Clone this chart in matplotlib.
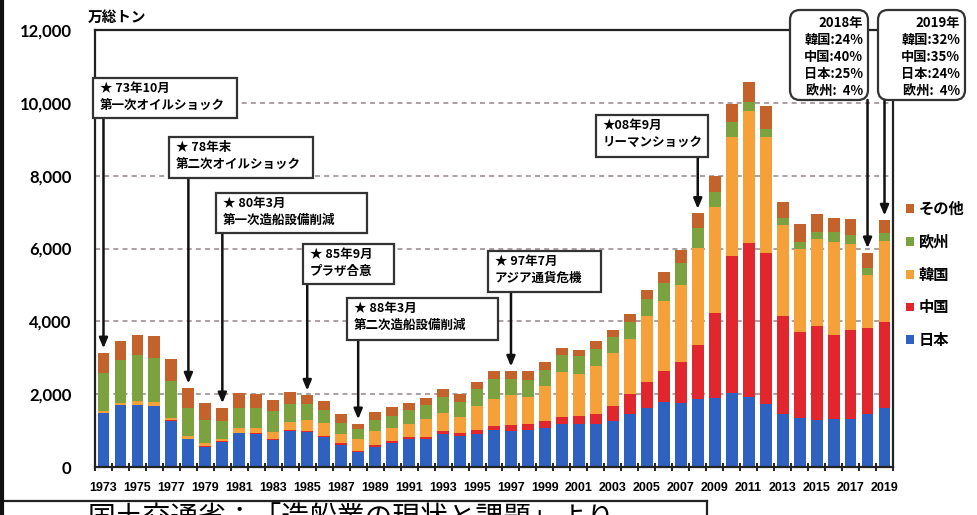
import matplotlib
matplotlib.use("Agg")
import matplotlib.pyplot as plt
from matplotlib.patches import Rectangle, FancyBboxPatch
from matplotlib.lines import Line2D
import numpy as np

plt.rcParams['font.family'] = ['Noto Sans CJK JP', 'DejaVu Sans']

years = list(range(1973, 2020))

# 万総トン
japan = [1475, 1695, 1700, 1667, 1264, 760, 560, 690, 925, 900,
         750, 1000, 950, 820, 614, 412, 550, 660, 760, 760,
         900, 850, 916, 1008, 980, 1026, 1080, 1190, 1170, 1170,
         1264, 1456, 1630, 1795, 1749, 1868, 1886, 2024, 1923, 1740,
         1456, 1337, 1291, 1328, 1309, 1447, 1612]
china = [10, 10, 15, 20, 15, 15, 10, 15, 20, 20,
         20, 25, 30, 30, 40, 40, 45, 55, 60, 65,
         80, 90, 110, 110, 165, 165, 185, 180, 220, 275,
         410, 540, 696, 842, 1135, 1492, 2335, 3773, 4221, 4130,
         2692, 2372, 2591, 2289, 2454, 2362, 2381]
korea = [50, 45, 90, 108, 77, 86, 80, 74, 117, 161,
         192, 212, 320, 359, 262, 327, 385, 357, 371, 485,
         504, 443, 650, 750, 824, 733, 970, 1241, 1175, 1330,
         1448, 1511, 1831, 1923, 2116, 2665, 2931, 3268, 3636, 3205,
         2500, 2289, 2391, 2564, 2372, 1465, 2206]
europe = [1053, 1200, 1282, 1209, 998, 769, 642, 476, 568, 549,
          577, 503, 422, 366, 284, 256, 302, 329, 366, 385,
          440, 412, 467, 541, 458, 476, 440, 458, 476, 458,
          440, 485, 458, 504, 595, 550, 412, 422, 256, 201,
          183, 192, 174, 266, 247, 193, 220]
others = [550, 522, 531, 596, 605, 541, 467, 375, 413, 385,
          302, 330, 256, 229, 247, 155, 229, 248, 202, 201,
          210, 202, 202, 220, 211, 238, 210, 192, 183, 220,
          201, 211, 247, 302, 357, 393, 430, 494, 540, 632,
          458, 476, 503, 393, 440, 421, 366]

series = [('日本', japan, '#2f62c0'), ('中国', china, '#e2262d'),
          ('韓国', korea, '#f5a038'), ('欧州', europe, '#7ba23e'),
          ('その他', others, '#c4622c')]

events = [
    (1973, '★ 73年10月\n第一次オイルショック', (93, 78, 237, 118)),
    (1978, '★ 78年末\n第二次オイルショック', (169, 137, 313, 178)),
    (1980, '★ 80年3月\n第一次造船設備削減', (216, 193, 367, 233)),
    (1985, '★ 85年9月\nプラザ合意', (303, 244, 394, 284)),
    (1988, '★ 88年3月\n第二次造船設備削減', (347, 298, 498, 340)),
    (1997, '★ 97年7月\nアジア通貨危機', (488, 251, 601, 292)),
    (2008, '★08年9月\nリーマンショック', (596, 115, 708, 157)),
]
shares = [
    (2018, '2018年\n韓国:24%\n中国:40%\n日本:25%\n欧州:  4%', (790, 10, 868, 100)),
    (2019, '2019年\n韓国:32%\n中国:35%\n日本:24%\n欧州:  4%', (878, 10, 965, 100)),
]

W, H = 977, 515
fig = plt.figure(figsize=(W / 100, H / 100), dpi=100)
ax = fig.add_axes([95 / W, 1 - 467 / H, (893 - 95) / W, (467 - 30) / H])


def fx(px):
    return px / W


def fy(py):
    return 1 - py / H


x = np.array(years)
bottom = np.zeros(len(years))
for name, vals, color in series:
    ax.bar(x, vals, 0.7, bottom=bottom, color=color, label=name, zorder=2)
    bottom = bottom + np.array(vals)
totals = bottom

ax.set_xlim(1972.53, 2019.47)
ax.set_ylim(0, 12000)
ax.set_yticks(range(0, 12001, 2000))
ax.set_yticklabels(['{:,}'.format(v) for v in range(0, 12001, 2000)],
                   fontfamily='Lato', fontweight='bold', fontsize=12)
ax.tick_params(axis='y', length=0, pad=17)
for v in range(2000, 12000, 2000):
    ax.axhline(v, color='#9c8f92', lw=1.2, ls=(0, (3, 2.5)), zorder=1)

ax.set_xticks(years[::2])
ax.set_xticklabels([str(y) for y in years[::2]],
                   fontfamily='Liberation Sans', fontweight='bold', fontsize=9)
ax.set_xticks(np.arange(1972.5, 2020, 1), minor=True)
ax.tick_params(axis='x', which='major', length=0, pad=11)
ax.tick_params(axis='x', which='minor', length=6, width=1.4, direction='inout', color='#222222')
for s in ax.spines.values():
    s.set_linewidth(1.6)
    s.set_color('#222222')

fig.text(fx(88), fy(17), '万総トン', fontsize=10.5, fontweight='bold', va='center', ha='left')

arrow = dict(arrowstyle='-|>,head_length=0.6,head_width=0.25',
             color='#111111', lw=1.8, shrinkA=0, shrinkB=0)

# event boxes
for yr, label, (l, t, r, b) in events:
    fig.patches.append(Rectangle((fx(l), fy(b)), fx(r) - fx(l), fy(t) - fy(b),
                                 transform=fig.transFigure, facecolor='white',
                                 edgecolor='#333333', lw=1.6, zorder=5))
    fig.text(fx(l + 7), fy(t + 4), label, fontsize=9, fontweight='bold',
             va='top', ha='left', linespacing=1.35, zorder=6)
    ax.annotate('', xy=(yr, totals[years.index(yr)] + 120),
                xytext=(yr, (467 - b) * 12000 / 437), annotation_clip=False,
                arrowprops=arrow)

for yr, label, (l, t, r, b) in shares:
    fig.patches.append(FancyBboxPatch((fx(l), fy(b)), fx(r) - fx(l), fy(t) - fy(b),
                                      boxstyle='round,pad=0,rounding_size=%f' % (10 / W),
                                      mutation_aspect=W / H,
                                      transform=fig.transFigure, facecolor='white',
                                      edgecolor='#333333', lw=1.6, zorder=5))
    fig.text(fx(r - 5), fy(t + 6), label, fontsize=9.5, fontweight='bold',
             va='top', ha='right', multialignment='right', linespacing=1.28, zorder=6)
    ax.annotate('', xy=(yr, totals[years.index(yr)] + 120),
                xytext=(yr, (467 - b) * 12000 / 437), annotation_clip=False,
                arrowprops=arrow)

handles, labels = ax.get_legend_handles_labels()
fig.legend(handles[::-1], labels[::-1], loc='upper left',
           bbox_to_anchor=(fx(906), fy(201)), frameon=False,
           prop={'weight': 'bold', 'size': 11}, handlelength=0.5, handleheight=0.5,
           handletextpad=0.35, labelspacing=1.1, borderpad=0, borderaxespad=0)

# source box at the bottom
fig.add_artist(Line2D([0, fx(707)], [fy(501), fy(501)], color='#222222', lw=1.6))
fig.add_artist(Line2D([fx(707), fx(707)], [fy(501), 0], color='#222222', lw=1.6))
fig.add_artist(Line2D([fx(1.5), fx(1.5)], [0, 1], color='#111111', lw=3))
fig.text(fx(88), fy(503), '国土交通省：「造船業の現状と課題」より', fontsize=20,
         va='top', ha='left')

fig.savefig('out.png', dpi=100)
